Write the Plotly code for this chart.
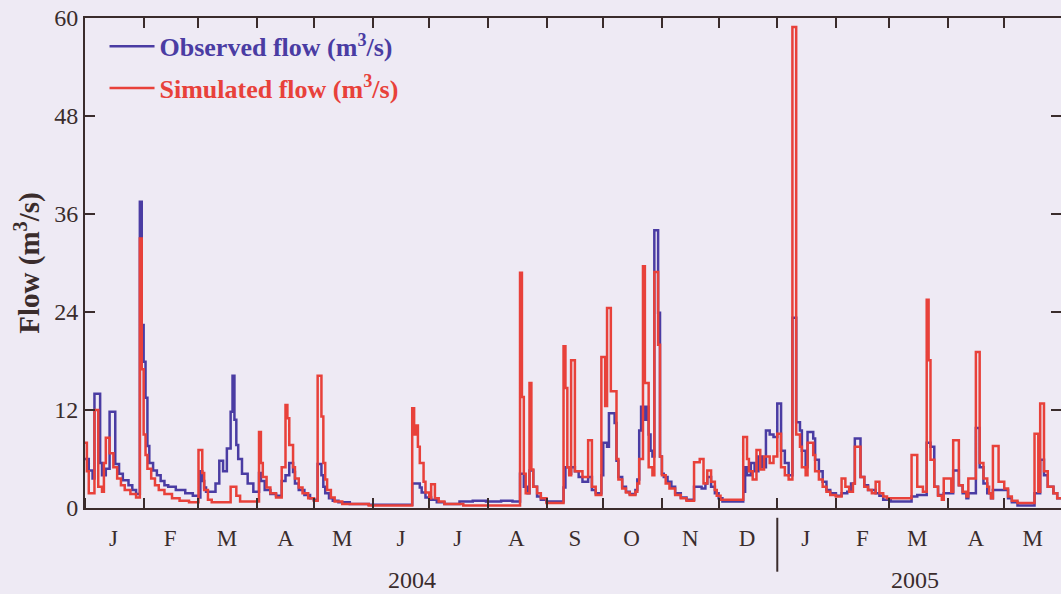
import plotly.graph_objects as go

# ---------------- data ----------------
obs_dates = [
    "2004-01-01","2004-01-03","2004-01-05","2004-01-06","2004-01-09","2004-01-10","2004-01-12","2004-01-14",
    "2004-01-17","2004-01-19","2004-01-21","2004-01-24","2004-01-26","2004-01-28","2004-01-30","2004-01-31",
    "2004-02-01","2004-02-02","2004-02-03","2004-02-04","2004-02-06","2004-02-08","2004-02-10","2004-02-12",
    "2004-02-14","2004-02-18","2004-02-23","2004-02-27","2004-03-01","2004-03-02","2004-03-03","2004-03-04",
    "2004-03-05","2004-03-10","2004-03-12","2004-03-14","2004-03-16","2004-03-18","2004-03-19","2004-03-20",
    "2004-03-21","2004-03-22","2004-03-24","2004-03-27","2004-03-30","2004-04-02","2004-04-03","2004-04-05",
    "2004-04-08","2004-04-11","2004-04-14","2004-04-16","2004-04-18","2004-04-20","2004-04-21","2004-04-23",
    "2004-04-26","2004-04-29","2004-05-01","2004-05-03","2004-05-05","2004-05-06","2004-05-07","2004-05-09",
    "2004-05-11","2004-05-14","2004-05-20","2004-05-30","2004-06-22","2004-06-26","2004-06-27","2004-06-29",
    "2004-07-02","2004-07-05","2004-07-09","2004-07-17","2004-07-24","2004-07-31","2004-08-08","2004-08-14",
    "2004-08-18","2004-08-20","2004-08-22","2004-08-23","2004-08-25","2004-08-27","2004-08-29","2004-09-01",
    "2004-09-10","2004-09-11","2004-09-13","2004-09-14","2004-09-16","2004-09-18","2004-09-20","2004-09-23",
    "2004-09-25","2004-09-27","2004-09-30","2004-10-01","2004-10-03","2004-10-04","2004-10-07","2004-10-08",
    "2004-10-09","2004-10-11","2004-10-13","2004-10-15","2004-10-18","2004-10-19","2004-10-20","2004-10-21",
    "2004-10-23","2004-10-24","2004-10-25","2004-10-26","2004-10-27","2004-10-28","2004-10-30","2004-10-31",
    "2004-11-01","2004-11-02","2004-11-04","2004-11-06","2004-11-08","2004-11-11","2004-11-14","2004-11-18",
    "2004-11-22","2004-11-24","2004-11-25","2004-11-27","2004-11-29","2004-12-01","2004-12-03","2004-12-14",
    "2004-12-15","2004-12-16","2004-12-18","2004-12-20","2004-12-22","2004-12-24","2004-12-26","2004-12-28",
    "2004-12-30","2005-01-01","2005-01-03","2005-01-05","2005-01-07","2005-01-09","2005-01-11","2005-01-13",
    "2005-01-14","2005-01-16","2005-01-17","2005-01-20","2005-01-21","2005-01-23","2005-01-25","2005-01-27",
    "2005-01-29","2005-02-01","2005-02-04","2005-02-07","2005-02-09","2005-02-11","2005-02-14","2005-02-16",
    "2005-02-18","2005-02-22","2005-02-24","2005-02-26","2005-03-02","2005-03-13","2005-03-16","2005-03-21",
    "2005-03-23","2005-03-25","2005-03-27","2005-03-30","2005-04-04","2005-04-07","2005-04-09","2005-04-11",
    "2005-04-12","2005-04-16","2005-04-18","2005-04-20","2005-04-22","2005-04-24","2005-04-25","2005-05-03",
    "2005-05-05","2005-05-08","2005-05-17","2005-05-20","2005-05-22","2005-05-24","2005-05-27","2005-05-29",
    "2005-06-01",
]
obs_flow = [
    6.0, 4.6, 3.6, 14.0, 5.5, 4.0, 4.8, 11.8,
    5.4, 4.2, 3.4, 2.8, 2.2, 1.7, 37.5, 22.4,
    17.9, 13.5, 7.6, 5.5, 4.6, 4.0, 3.3, 2.8,
    2.6, 2.2, 1.8, 1.5, 1.3, 4.5, 3.3, 2.5,
    2.0, 3.0, 5.8, 4.5, 7.3, 11.8, 16.2, 10.8,
    7.7, 6.0, 4.2, 3.0, 2.0, 4.3, 3.3, 2.2,
    1.7, 1.5, 3.3, 4.0, 5.5, 4.4, 3.0, 2.2,
    1.6, 1.2, 1.0, 5.4, 4.0, 2.6, 1.8, 1.2,
    0.9, 0.7, 0.5, 0.4, 3.0, 2.5, 1.9, 1.3,
    1.0, 0.7, 0.5, 0.8, 0.9, 0.8, 0.9, 0.8,
    4.2, 2.6, 1.8, 4.6, 2.6, 1.4, 1.0, 0.8,
    2.5, 5.0, 4.2, 5.0, 4.5, 3.8, 3.2, 3.8,
    2.2, 1.8, 4.0, 8.0, 7.5, 11.6, 10.4, 5.8,
    3.8, 2.6, 2.0, 1.7, 2.2, 3.5, 9.5, 12.4,
    10.8, 12.4, 9.0, 7.0, 6.3, 34.0, 23.9, 6.3,
    4.2, 3.8, 3.2, 2.6, 1.8, 1.3, 1.0, 2.6,
    2.4, 3.0, 3.8, 2.6, 1.8, 1.2, 0.8, 2.0,
    5.0, 4.0, 5.5, 4.5, 6.3, 5.0, 9.5, 9.0,
    8.7, 12.8, 7.0, 5.5, 4.0, 23.3, 10.5, 9.5,
    7.0, 5.0, 9.3, 8.5, 5.9, 4.5, 3.2, 2.2,
    1.8, 1.5, 1.8, 2.0, 3.0, 8.5, 3.8, 2.8,
    2.2, 1.8, 1.5, 1.0, 0.8, 1.4, 1.6, 8.0,
    7.5, 2.6, 1.6, 1.8, 4.6, 2.8, 1.8, 1.2,
    1.8, 9.8, 5.0, 3.0, 1.8, 1.2, 2.2, 1.2,
    0.7, 0.3, 1.8, 5.9, 4.0, 2.6, 1.8, 1.2,
    1.0,
]

sim_dates = [
    "2004-01-01","2004-01-02","2004-01-03","2004-01-06","2004-01-08","2004-01-10","2004-01-11","2004-01-12",
    "2004-01-14","2004-01-16","2004-01-18","2004-01-20","2004-01-22","2004-01-25","2004-01-28","2004-01-30",
    "2004-01-31","2004-02-01","2004-02-02","2004-02-03","2004-02-05","2004-02-07","2004-02-09","2004-02-12",
    "2004-02-16","2004-02-20","2004-02-25","2004-03-01","2004-03-03","2004-03-04","2004-03-06","2004-03-08",
    "2004-03-18","2004-03-21","2004-03-23","2004-04-02","2004-04-03","2004-04-04","2004-04-06","2004-04-08",
    "2004-04-11","2004-04-14","2004-04-16","2004-04-17","2004-04-18","2004-04-20","2004-04-21","2004-04-23",
    "2004-04-25","2004-04-28","2004-05-01","2004-05-03","2004-05-05","2004-05-06","2004-05-07","2004-05-08",
    "2004-05-10","2004-05-12","2004-05-16","2004-05-30","2004-06-22","2004-06-23","2004-06-24","2004-06-25",
    "2004-06-26","2004-06-28","2004-06-29","2004-07-01","2004-07-02","2004-07-04","2004-07-06","2004-07-09",
    "2004-07-19","2004-08-18","2004-08-19","2004-08-20","2004-08-21","2004-08-23","2004-08-24","2004-08-25",
    "2004-08-27","2004-08-29","2004-09-01","2004-09-10","2004-09-11","2004-09-12","2004-09-13","2004-09-14",
    "2004-09-16","2004-09-20","2004-09-23","2004-09-25","2004-09-27","2004-09-30","2004-10-02","2004-10-03",
    "2004-10-05","2004-10-08","2004-10-09","2004-10-11","2004-10-13","2004-10-15","2004-10-18","2004-10-19",
    "2004-10-20","2004-10-22","2004-10-23","2004-10-25","2004-10-27","2004-10-28","2004-10-30","2004-10-31",
    "2004-11-01","2004-11-03","2004-11-05","2004-11-08","2004-11-11","2004-11-14","2004-11-18","2004-11-21",
    "2004-11-23","2004-11-25","2004-11-27","2004-11-29","2004-11-30","2004-12-02","2004-12-14","2004-12-16",
    "2004-12-17","2004-12-19","2004-12-21","2004-12-23","2004-12-25","2004-12-28","2004-12-30","2005-01-01",
    "2005-01-03","2005-01-05","2005-01-07","2005-01-09","2005-01-11","2005-01-13","2005-01-14","2005-01-16",
    "2005-01-17","2005-01-20","2005-01-21","2005-01-23","2005-01-25","2005-01-27","2005-01-29","2005-02-01",
    "2005-02-04","2005-02-06","2005-02-08","2005-02-10","2005-02-11","2005-02-14","2005-02-16","2005-02-18",
    "2005-02-20","2005-02-22","2005-02-24","2005-02-26","2005-02-28","2005-03-13","2005-03-16","2005-03-19",
    "2005-03-21","2005-03-22","2005-03-23","2005-03-25","2005-03-27","2005-03-29","2005-03-30","2005-04-03",
    "2005-04-04","2005-04-07","2005-04-09","2005-04-11","2005-04-12","2005-04-16","2005-04-18","2005-04-20",
    "2005-04-22","2005-04-23","2005-04-24","2005-04-25","2005-04-28","2005-05-01","2005-05-03","2005-05-05",
    "2005-05-08","2005-05-17","2005-05-19","2005-05-20","2005-05-22","2005-05-24","2005-05-27","2005-05-29",
    "2005-06-01",
]
sim_flow = [
    8.0, 4.5, 1.8, 12.0, 2.6, 2.0, 5.5, 8.6,
    6.7, 5.0, 3.6, 2.8, 2.2, 1.7, 1.3, 33.0,
    17.0, 9.0, 6.5, 4.8, 3.6, 2.8, 2.2, 1.7,
    1.2, 0.9, 0.7, 7.1, 4.3, 2.2, 1.0, 0.7,
    2.6, 1.5, 0.8, 9.3, 5.5, 3.8, 2.5, 1.8,
    1.3, 5.0, 12.6, 11.0, 7.7, 5.0, 3.6, 2.5,
    1.8, 1.2, 0.9, 16.2, 11.2, 5.5, 3.5, 2.2,
    1.3, 0.8, 0.5, 0.3, 12.2, 9.0, 10.1, 7.5,
    5.5, 3.2, 1.9, 1.2, 2.9, 1.2, 0.8, 0.5,
    0.3, 28.8, 13.6, 4.2, 1.8, 15.3, 4.7, 2.6,
    1.8, 1.2, 0.6, 19.8, 14.7, 5.0, 4.0, 18.1,
    4.5, 3.8, 8.3, 2.6, 1.6, 18.5, 12.5, 24.5,
    14.3, 6.0, 3.5, 2.4, 1.9, 1.6, 2.0, 3.0,
    6.0, 29.6, 15.3, 5.0, 4.0, 28.9, 20.0, 6.3,
    4.0, 3.0, 2.4, 1.6, 1.2, 0.9, 5.6, 6.0,
    3.0, 4.6, 3.2, 2.2, 1.5, 1.0, 8.7, 6.0,
    4.5, 3.5, 7.1, 4.7, 6.3, 5.5, 6.3, 9.1,
    5.0, 4.0, 3.5, 58.9, 9.0, 7.5, 5.0, 4.0,
    8.0, 6.5, 4.5, 3.5, 2.6, 2.0, 1.6, 1.4,
    3.6, 2.6, 2.0, 3.0, 7.5, 3.8, 2.6, 2.2,
    1.8, 3.2, 1.8, 1.4, 1.2, 6.5, 2.6, 2.0,
    25.5, 18.1, 5.9, 2.6, 1.5, 1.0, 3.6, 2.0,
    8.3, 2.8, 2.0, 1.4, 3.6, 19.1, 5.5, 3.6,
    2.6, 1.8, 1.2, 7.6, 3.2, 2.4, 1.4, 0.9,
    0.6, 9.1, 2.0, 12.8, 4.5, 2.6, 1.8, 1.2,
    1.0,
]

month_starts = [
    "2004-01-01","2004-02-01","2004-03-01","2004-04-01","2004-05-01","2004-06-01","2004-07-01",
    "2004-08-01","2004-09-01","2004-10-01","2004-11-01","2004-12-01","2005-01-01","2005-02-01",
    "2005-03-01","2005-04-01","2005-05-01","2005-06-01",
]
month_mids = [
    "2004-01-16","2004-02-15","2004-03-16","2004-04-16","2004-05-16","2004-06-16","2004-07-16",
    "2004-08-16","2004-09-16","2004-10-16","2004-11-16","2004-12-16","2005-01-16","2005-02-15",
    "2005-03-16","2005-04-16","2005-05-16",
]
month_letters = ["J","F","M","A","M","J","J","A","S","O","N","D","J","F","M","A","M"]
year_labels = ["2004", "2005"]
year_label_dates = ["2004-06-22", "2005-03-15"]
year_break = "2005-01-01"
y_ticks = [0, 12, 24, 36, 48, 60]

# ---------------- style ----------------
BG = "#EEEAF4"
AX = "#3a2c2c"
BLUE = "#4a3ca3"
RED = "#e8413a"
SERIF = "Liberation Serif, Times New Roman, serif"

fig = go.Figure()
fig.add_trace(go.Scatter(
    x=obs_dates, y=obs_flow, mode="lines", line_shape="hv",
    line=dict(color=BLUE, width=2.5),
    name=f"<b><span style='color:{BLUE}'>Observed flow (m<sup>3</sup>/s)</span></b>",
    legendgroup="obs",
))
fig.add_trace(go.Scatter(
    x=sim_dates, y=sim_flow, mode="lines", line_shape="hv",
    line=dict(color=RED, width=2.5),
    name=f"<b><span style='color:{RED}'>Simulated flow (m<sup>3</sup>/s)</span></b>",
    legendgroup="sim", xaxis="x2", yaxis="y2",
))

x_range = ["2004-01-01", "2005-05-31"]

fig.update_layout(
    width=1061, height=594,
    margin=dict(l=85, r=0, t=18, b=86),
    paper_bgcolor=BG, plot_bgcolor=BG,
    font=dict(family=SERIF, color=AX),
    showlegend=True,
    legend=dict(
        x=0.02, y=0.99, xanchor="left", yanchor="top",
        bgcolor="rgba(0,0,0,0)", font=dict(size=26, family=SERIF),
        tracegroupgap=5, itemwidth=45,
    ),
    xaxis=dict(
        type="date", range=x_range,
        showline=True, linecolor=AX, linewidth=2,
        showgrid=False, zeroline=False,
        tickmode="array", tickvals=month_mids, ticktext=month_letters,
        ticks="", tickfont=dict(size=23, family=SERIF, color=AX),
        ticklabelstandoff=8,
        minor=dict(tickmode="array", tickvals=month_starts, ticks="inside",
                   ticklen=10, tickwidth=2, tickcolor=AX, showgrid=False),
    ),
    xaxis2=dict(
        type="date", overlaying="x", matches="x", side="top",
        showline=True, linecolor=AX, linewidth=2,
        showgrid=False, zeroline=False,
        tickmode="array", tickvals=month_starts, ticks="inside",
        ticklen=10, tickwidth=2, tickcolor=AX, showticklabels=False,
    ),
    yaxis=dict(
        range=[0, 60], tickmode="array", tickvals=y_ticks,
        showline=True, linecolor=AX, linewidth=2,
        showgrid=False, zeroline=False,
        ticks="inside", ticklen=10, tickwidth=2, tickcolor=AX,
        tickfont=dict(size=24, family=SERIF, color=AX),
        title=dict(text="<b>Flow (m<sup>3</sup>/s)</b>",
                   font=dict(size=29, family=SERIF, color=AX), standoff=6),
    ),
    yaxis2=dict(
        range=[0, 60], overlaying="y", matches="y", side="right",
        showline=False, showgrid=False, zeroline=False,
        tickmode="array", tickvals=y_ticks, ticks="inside",
        ticklen=10, tickwidth=2, tickcolor=AX, showticklabels=False,
    ),
)

# year separator and year labels
fig.add_shape(type="line", xref="x", yref="paper", x0=year_break, x1=year_break,
              y0=-0.02, y1=-0.13, line=dict(color=AX, width=2))
for lab, d in zip(year_labels, year_label_dates):
    fig.add_annotation(x=d, xref="x", y=-0.147, yref="paper", text=lab,
                       showarrow=False, yanchor="middle",
                       font=dict(size=24, family=SERIF, color=AX))

fig.write_html("out.html")
